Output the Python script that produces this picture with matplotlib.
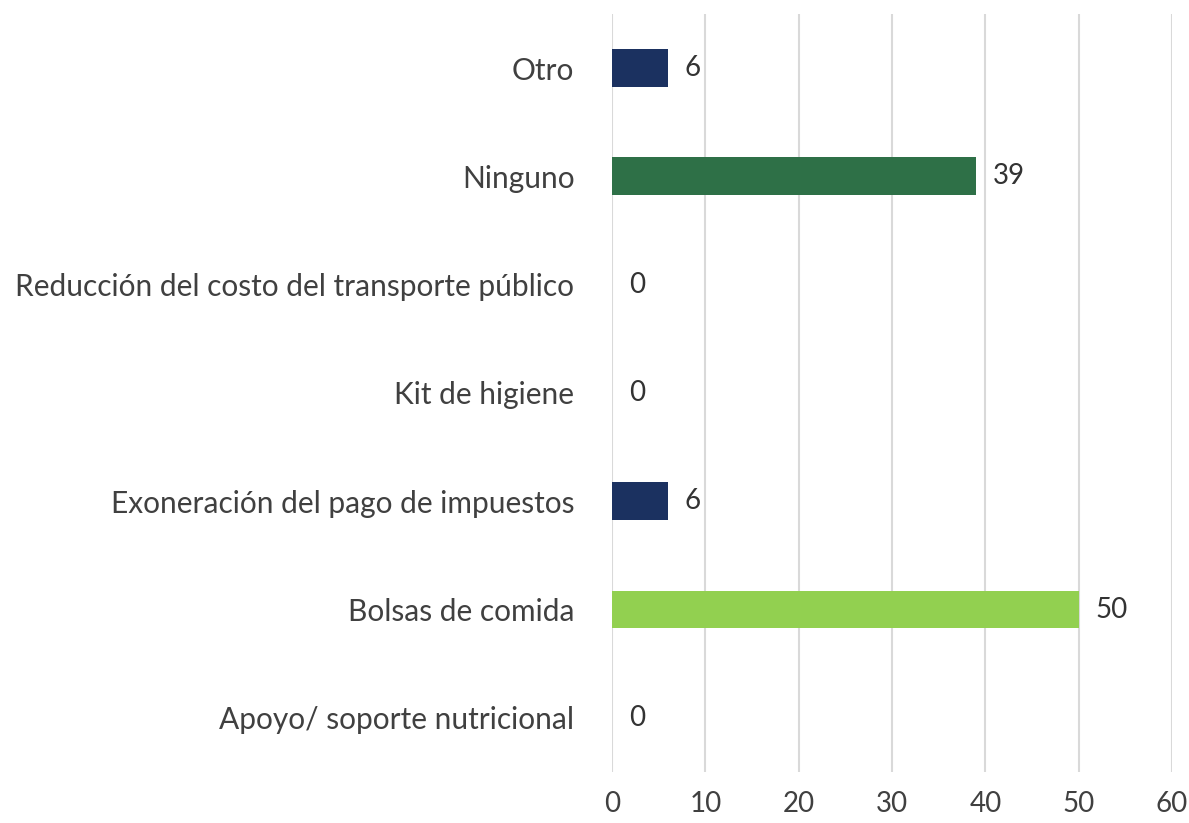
import matplotlib.pyplot as plt
from matplotlib.transforms import offset_copy

plt.rcParams['font.family'] = ['Lato', 'DejaVu Sans']

# Categories listed bottom to top
categories = [
    'Apoyo/ soporte nutricional',
    'Bolsas de comida',
    'Exoneración del pago de impuestos',
    'Kit de higiene',
    'Reducción del costo del transporte público',
    'Ninguno',
    'Otro',
]
values = [0, 50, 6, 0, 0, 39, 6]
bar_colors = ['#1B3160', '#92D050', '#1B3160', '#1B3160', '#1B3160', '#2E7047', '#1B3160']
x_ticks = [0, 10, 20, 30, 40, 50, 60]

fig = plt.figure(figsize=(11.89, 8.23), dpi=100)
ax = fig.add_axes([0.5147, 0.062, 0.471, 0.921])

pos = range(len(categories))
ax.barh(pos, values, height=0.35, color=bar_colors, zorder=3)

ax.set_xlim(0, 60)
ax.set_ylim(-0.5, len(categories) - 0.5)
ax.set_xticks(x_ticks)
ax.set_yticks(list(pos))
ax.set_yticklabels(categories)
ax.tick_params(axis='y', length=0, pad=27, labelsize=21.5, labelcolor='#404040')
ax.tick_params(axis='x', length=0, pad=14, labelsize=20, labelcolor='#404040')

ax.grid(axis='x', color='#D9D9D9', linewidth=1.5, zorder=0)
for s in ax.spines.values():
    s.set_visible(False)

# value labels just right of each bar end
lbl_tr = offset_copy(ax.transData, fig=fig, x=12, y=0, units='points')
for y, v in zip(pos, values):
    ax.text(v, y, str(v), transform=lbl_tr, ha='left', va='center',
            fontsize=20, color='#333333')

fig.savefig('out.png', dpi=100)
